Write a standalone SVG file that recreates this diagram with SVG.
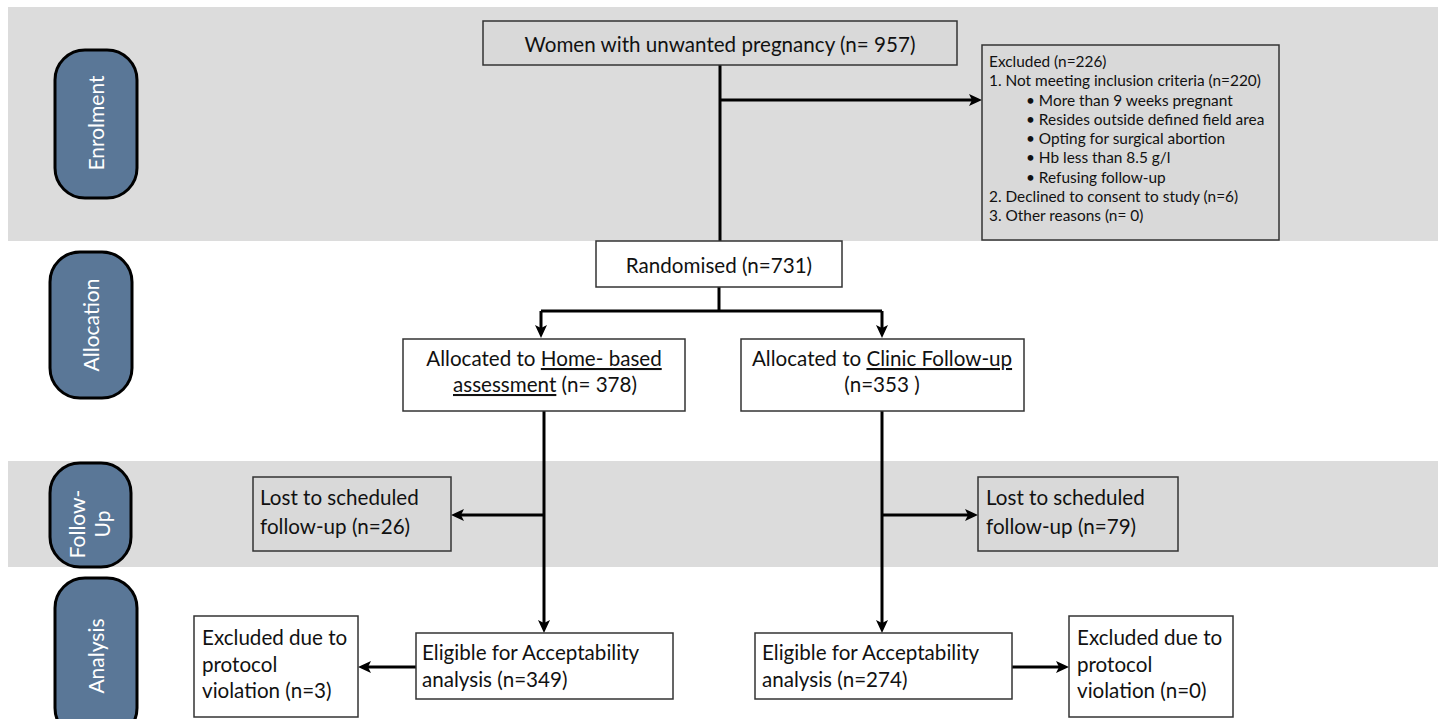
<svg xmlns="http://www.w3.org/2000/svg" width="1443" height="719" viewBox="0 0 1443 719">
<style>
.band{fill:#dcdcdc}
.pill{fill:#5a7797;stroke:#000;stroke-width:3}
.pt{fill:#fff;font-family:Lato,"Open Sans",sans-serif;font-size:21px;text-anchor:middle}
.box{fill:#fff;stroke:#333;stroke-width:1.5}
.gbox{fill:#d9d9d9;stroke:#333;stroke-width:1.5}
.t{fill:#111;font-family:Lato,"Open Sans",sans-serif;font-size:20.6px}
.c{text-anchor:middle}
.s{font-size:15.4px}
.conn path{fill:none;stroke:#000;stroke-width:3}
</style>
<defs>
<marker id="ah" markerUnits="userSpaceOnUse" markerWidth="14" markerHeight="12" refX="7" refY="6" orient="auto">
<path d="M0,0 L13,6 L0,12 L3,6 z" fill="#000"/>
</marker>
</defs>
<rect class="band" x="8" y="7" width="1430" height="234"/>
<rect class="band" x="8" y="461" width="1430" height="106"/>

<g id="stage-enrolment"><rect class="pill" x="55" y="50" width="82" height="148" rx="30"/><text class="pt" transform="translate(104,123) rotate(-90)">Enrolment</text></g>
<g id="stage-allocation"><rect class="pill" x="50" y="252" width="82" height="146" rx="30"/><text class="pt" transform="translate(99,325) rotate(-90)">Allocation</text></g>
<g id="stage-followup"><rect class="pill" x="50" y="463" width="81" height="104" rx="30"/><text class="pt" transform="translate(85,524) rotate(-90)">Follow-</text><text class="pt" transform="translate(110,524) rotate(-90)">Up</text></g>
<g id="stage-analysis"><rect class="pill" x="55" y="578" width="82" height="160" rx="30"/><text class="pt" transform="translate(104,656) rotate(-90)">Analysis</text></g>

<g class="conn" id="connectors">
<path d="M720,65 V241"/>
<path d="M720,100 H976" marker-end="url(#ah)"/>
<path d="M719,287 V311"/>
<path d="M541,311 H882"/>
<path d="M541,311 V332" marker-end="url(#ah)"/>
<path d="M882,311 V332" marker-end="url(#ah)"/>
<path d="M544,411 V627" marker-end="url(#ah)"/>
<path d="M544,515 H457" marker-end="url(#ah)"/>
<path d="M882,411 V627" marker-end="url(#ah)"/>
<path d="M882,515 H972" marker-end="url(#ah)"/>
<path d="M416,667 H364" marker-end="url(#ah)"/>
<path d="M1012,667 H1063" marker-end="url(#ah)"/>
</g>

<g id="women"><rect class="gbox" x="483" y="21" width="474" height="44"/><text class="t c" x="720" y="52" font-size="21.8">Women with unwanted pregnancy (n= 957)</text></g>

<g id="excluded">
<rect class="gbox" x="982" y="45" width="297" height="195"/>
<text class="t s" x="989" y="67">Excluded (n=226)</text>
<text class="t s" x="989" y="86">1. Not meeting inclusion criteria (n=220)</text>
<text class="t s" x="1026" y="106">• More than 9 weeks pregnant</text>
<text class="t s" x="1026" y="125">• Resides outside defined field area</text>
<text class="t s" x="1026" y="144">• Opting for surgical abortion</text>
<text class="t s" x="1026" y="163">• Hb less than 8.5 g/l</text>
<text class="t s" x="1026" y="183">• Refusing follow-up</text>
<text class="t s" x="989" y="202">2. Declined to consent to study (n=6)</text>
<text class="t s" x="989" y="221">3. Other reasons (n= 0)</text>
</g>

<g id="randomised"><rect class="box" x="596" y="241" width="246" height="46"/><text class="t c" x="719" y="273">Randomised (n=731)</text></g>

<g id="alloc-home"><rect class="box" x="403" y="339" width="282" height="72"/>
<text class="t c" x="544" y="366">Allocated to <tspan text-decoration="underline">Home- based</tspan></text>
<text class="t c" x="545" y="392"><tspan text-decoration="underline">assessment</tspan> (n= 378)</text></g>

<g id="alloc-clinic"><rect class="box" x="741" y="339" width="283" height="72"/>
<text class="t c" x="882" y="366">Allocated to <tspan text-decoration="underline">Clinic Follow-up</tspan></text>
<text class="t c" x="882" y="392">(n=353 )</text></g>

<g id="lost-home"><rect class="gbox" x="253" y="477" width="198" height="74"/>
<text class="t" x="260" y="505">Lost to scheduled</text><text class="t" x="260" y="534">follow-up (n=26)</text></g>

<g id="lost-clinic"><rect class="gbox" x="978" y="477" width="200" height="74"/>
<text class="t" x="986" y="505">Lost to scheduled</text><text class="t" x="986" y="534">follow-up (n=79)</text></g>

<g id="eligible-home"><rect class="box" x="416" y="633" width="257" height="66"/>
<text class="t" x="422" y="660">Eligible for Acceptability</text><text class="t" x="422" y="687">analysis (n=349)</text></g>

<g id="eligible-clinic"><rect class="box" x="755" y="633" width="257" height="66"/>
<text class="t" x="762" y="660">Eligible for Acceptability</text><text class="t" x="762" y="687">analysis (n=274)</text></g>

<g id="excl-home"><rect class="box" x="194" y="616" width="164" height="101"/>
<text class="t" x="202" y="645">Excluded due to</text><text class="t" x="202" y="672">protocol</text><text class="t" x="202" y="698">violation (n=3)</text></g>

<g id="excl-clinic"><rect class="box" x="1069" y="616" width="164" height="101"/>
<text class="t" x="1077" y="645">Excluded due to</text><text class="t" x="1077" y="672">protocol</text><text class="t" x="1077" y="698">violation (n=0)</text></g>
</svg>
